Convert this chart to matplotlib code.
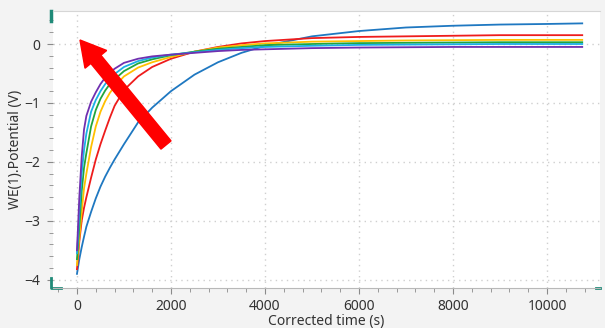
import numpy as np
import matplotlib.pyplot as plt
from matplotlib.patches import FancyArrow
from matplotlib.transforms import IdentityTransform

plt.rcParams['font.family'] = ['Noto Sans', 'DejaVu Sans']

# time points (s)
t = [0, 20, 50, 100, 150, 200, 300, 400, 500, 600, 700, 800, 1000, 1300, 1600,
     2000, 2500, 3000, 3500, 4000, 5000, 6000, 7000, 8000, 9000, 10000, 10750]

# potentials (V)
purple = [-3.50, -3.15, -2.60, -1.92, -1.45, -1.22, -0.98, -0.82, -0.68, -0.57, -0.49, -0.42,
          -0.32, -0.25, -0.21, -0.18, -0.15, -0.12, -0.10, -0.09, -0.07, -0.06, -0.055,
          -0.05, -0.05, -0.05, -0.05]
cyan = [-3.55, -3.30, -2.85, -2.20, -1.80, -1.52, -1.15, -0.95, -0.80, -0.68, -0.59, -0.51,
        -0.39, -0.29, -0.23, -0.18, -0.14, -0.10, -0.07, -0.05, -0.03, -0.015, -0.01,
        -0.005, 0.0, 0.0, 0.0]
green = [-3.65, -3.45, -3.10, -2.50, -2.10, -1.85, -1.40, -1.12, -0.93, -0.79, -0.68, -0.60,
         -0.46, -0.33, -0.26, -0.19, -0.13, -0.08, -0.05, -0.02, 0.0, 0.015, 0.02,
         0.025, 0.03, 0.03, 0.03]
yellow = [-3.75, -3.55, -3.30, -2.85, -2.45, -2.20, -1.75, -1.40, -1.15, -0.97, -0.83, -0.72,
          -0.55, -0.40, -0.31, -0.22, -0.13, -0.06, -0.02, 0.01, 0.04, 0.05, 0.06,
          0.065, 0.07, 0.07, 0.07]
red = [-3.82, -3.65, -3.35, -3.00, -2.78, -2.60, -2.27, -1.96, -1.70, -1.47, -1.25, -1.05,
       -0.78, -0.55, -0.39, -0.25, -0.13, -0.05, 0.01, 0.05, 0.10, 0.12, 0.13,
       0.14, 0.15, 0.15, 0.15]
blue = [-3.90, -3.80, -3.65, -3.45, -3.27, -3.10, -2.85, -2.62, -2.42, -2.25, -2.10, -1.96,
        -1.70, -1.33, -1.08, -0.80, -0.52, -0.31, -0.15, -0.03, 0.13, 0.22, 0.28,
        0.31, 0.33, 0.34, 0.35]

series = [(blue, '#1f78c1'), (red, '#ee1c1c'), (yellow, '#ffc000'),
          (green, '#22a53c'), (cyan, '#1ab0e6'), (purple, '#7030b0')]

fig = plt.figure(figsize=(6.05, 3.28), dpi=100)
fig.patch.set_facecolor('#f3f3f3')
ax = fig.add_axes([53/605, 40/328, 547/605, 277/328])
ax.set_facecolor('white')

for vals, col in series:
    ax.plot(t, vals, color=col, lw=1.3)

ax.set_xlim(-510, 11128)
ax.set_ylim(-4.14, 0.56)
ax.set_xticks([0, 2000, 4000, 6000, 8000, 10000])
ax.set_xticks(np.arange(-400, 11128, 400), minor=True)
ax.set_yticks([-4, -3, -2, -1, 0])
ax.set_yticks(np.arange(-4.0, 0.56, 0.2), minor=True)
ax.grid(True, which='major', color='#cfcfcf', ls=(0, (1, 3)), lw=1)

for s in ['left', 'right']:
    ax.spines[s].set_visible(False)
ax.spines['top'].set_color('#d6d6d6')
ax.spines['bottom'].set_color('#b8b8b8')
ax.tick_params(which='both', color='#8a8a8a', labelcolor='#333333', labelsize=10)
ax.tick_params(axis='x', which='major', length=4, pad=4)
ax.tick_params(axis='x', which='minor', length=3)
ax.tick_params(axis='y', which='major', length=4, pad=5)
ax.tick_params(axis='y', which='minor', length=3)

ax.set_xlabel('Corrected time (s)', fontsize=10, color='#333333', labelpad=0)
ax.set_ylabel('WE(1).Potential (V)', fontsize=10, color='#333333', labelpad=1)

# teal axis end markers
teal = '#1f8a78'
ax.plot([-0.004, -0.004], [0.965, 1.0], transform=ax.transAxes, color=teal, lw=2.5, clip_on=False)
ax.plot([-0.004, -0.004, 0.015], [0.035, 0.0, 0.0], transform=ax.transAxes, color=teal, lw=2, clip_on=False)
ax.plot([0.993, 1.0], [0.0, 0.0], transform=ax.transAxes, color=teal, lw=2, clip_on=False)

# big red arrow (pixel coordinates)
arrow = FancyArrow(166, 183, -86, 105, width=13, head_width=28, head_length=25,
                   length_includes_head=True, color='#ff0000', transform=IdentityTransform())
fig.add_artist(arrow)

fig.savefig('out.png', dpi=100, facecolor=fig.get_facecolor())
